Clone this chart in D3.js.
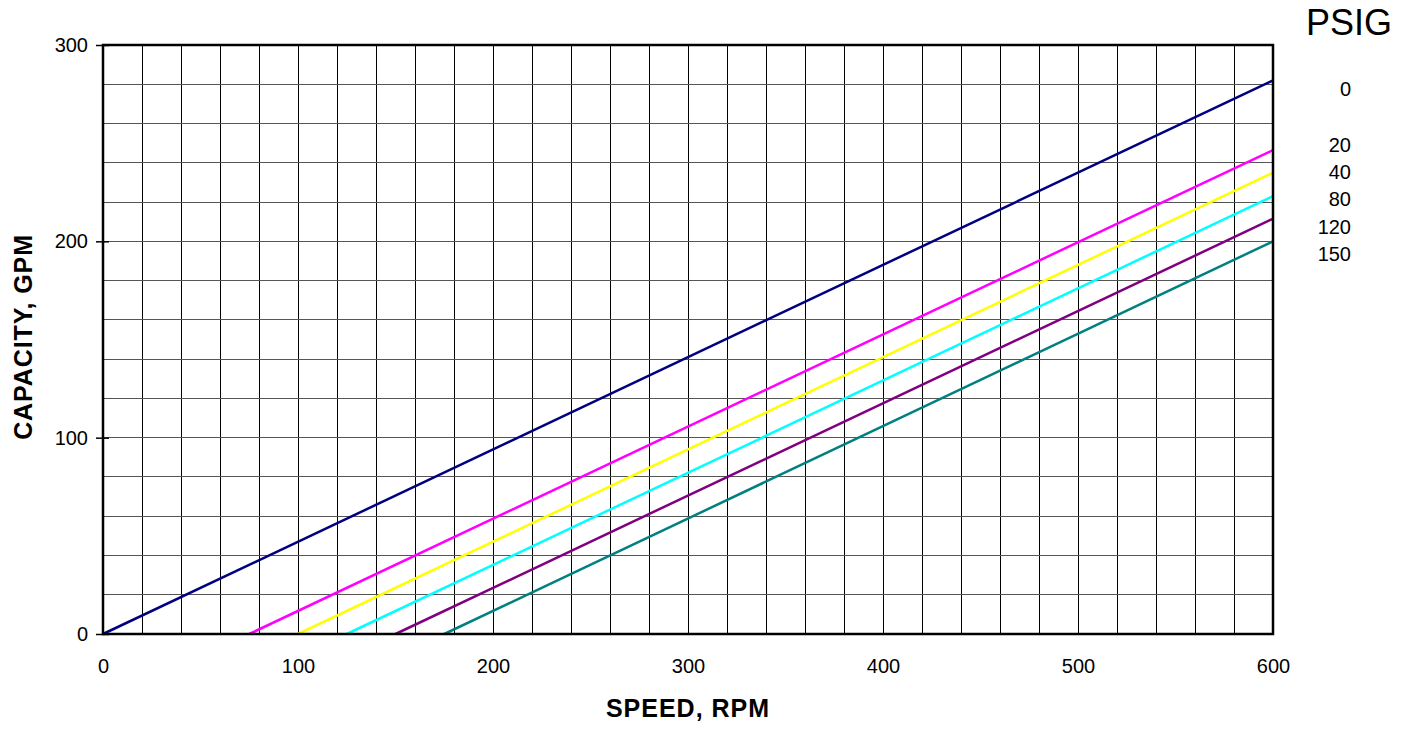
<!DOCTYPE html>
<html>
<head>
<meta charset="utf-8">
<script src="https://cdn.jsdelivr.net/npm/d3@7/dist/d3.min.js"></script>
<style>
html,body{margin:0;padding:0;background:#fff;}
svg{display:block;font-family:Arial,"Liberation Sans",sans-serif;}
</style>
</head>
<body>
<svg id="chart" width="1404" height="730"></svg>
<script>
// Data
const pressures = ["0", "20", "40", "80", "120", "150"];
const startSpeed = [0, 75, 100, 125, 150, 175];      // RPM where capacity = 0
const endCapacity = [282, 246.5, 235, 223, 211.5, 200]; // GPM at 600 RPM
const colors = ["#000080", "#FF00FF", "#FFFF00", "#00FFFF", "#800080", "#008080"];
const labelAt = [277.6, 249.1, 235.3, 221.6, 207.3, 193.5]; // GPM level of right-hand labels
const xTicks = [0, 100, 200, 300, 400, 500, 600];
const yTicks = [0, 100, 200, 300];

const svg = d3.select("#chart");
const m = {l: 103, t: 45, r: 1273, b: 634};
const x = d3.scaleLinear().domain([0, 600]).range([m.l, m.r]);
const y = d3.scaleLinear().domain([0, 300]).range([m.b, m.t]);
const FF = "Arial,'Liberation Sans',sans-serif";

// grid
const g = svg.append("g");
g.selectAll("line.v").data(d3.range(20, 600, 20)).join("line")
  .attr("x1", d => x(d)).attr("x2", d => x(d))
  .attr("y1", m.t).attr("y2", m.b)
  .attr("stroke", "#000").attr("stroke-width", 1).attr("shape-rendering", "crispEdges");
g.selectAll("line.h").data(d3.range(20, 300, 20)).join("line")
  .attr("y1", d => y(d)).attr("y2", d => y(d))
  .attr("x1", m.l).attr("x2", m.r)
  .attr("stroke", "#555").attr("stroke-width", 1).attr("shape-rendering", "crispEdges");

// series lines
const line = d3.line().x(d => x(d[0])).y(d => y(d[1]));
pressures.forEach((p, i) => {
  svg.append("path")
    .attr("d", line([[startSpeed[i], 0], [600, endCapacity[i]]]))
    .attr("fill", "none").attr("stroke", colors[i]).attr("stroke-width", 2.5);
});

// frame
svg.append("rect").attr("x", m.l).attr("y", m.t)
  .attr("width", m.r - m.l).attr("height", m.b - m.t)
  .attr("fill", "none").attr("stroke", "#000").attr("stroke-width", 2.5);

// y axis ticks
const yAxis = d3.axisLeft(y).tickValues(yTicks).tickSize(7).tickPadding(8);
const ya = svg.append("g").attr("transform", `translate(${m.l + 6},0)`).call(yAxis);
ya.select(".domain").remove();
ya.selectAll(".tick line").attr("stroke", "#000").attr("stroke-width", 1.5).attr("x2", -13).attr("x1", 0);
ya.selectAll(".tick text").attr("x", -21).attr("font-size", 20).attr("font-family", FF).attr("fill", "#000");

// x axis labels
const xAxis = d3.axisBottom(x).tickValues(xTicks).tickSize(0).tickPadding(25);
const xa = svg.append("g").attr("transform", `translate(0,${m.b})`).call(xAxis);
xa.select(".domain").remove();
xa.selectAll(".tick text").attr("font-size", 20).attr("font-family", FF).attr("fill", "#000");

// axis titles
svg.append("text").attr("x", (m.l + m.r) / 2).attr("y", 717)
  .attr("text-anchor", "middle").attr("font-size", 25).attr("font-weight", "bold")
  .attr("letter-spacing", 1).text("SPEED, RPM");
svg.append("text").attr("transform", `translate(32,337) rotate(-90)`)
  .attr("text-anchor", "middle").attr("font-size", 25).attr("font-weight", "bold")
  .attr("letter-spacing", 0.9).text("CAPACITY, GPM");

// right labels
svg.append("text").attr("x", 1349).attr("y", 35).attr("text-anchor", "middle")
  .attr("font-size", 36).text("PSIG");
svg.selectAll("text.lab").data(pressures).join("text")
  .attr("class", "lab")
  .attr("x", 1351).attr("y", (d, i) => y(labelAt[i]))
  .attr("dy", "0.35em").attr("text-anchor", "end")
  .attr("font-size", 20).text(d => d);
</script>
</body>
</html>
